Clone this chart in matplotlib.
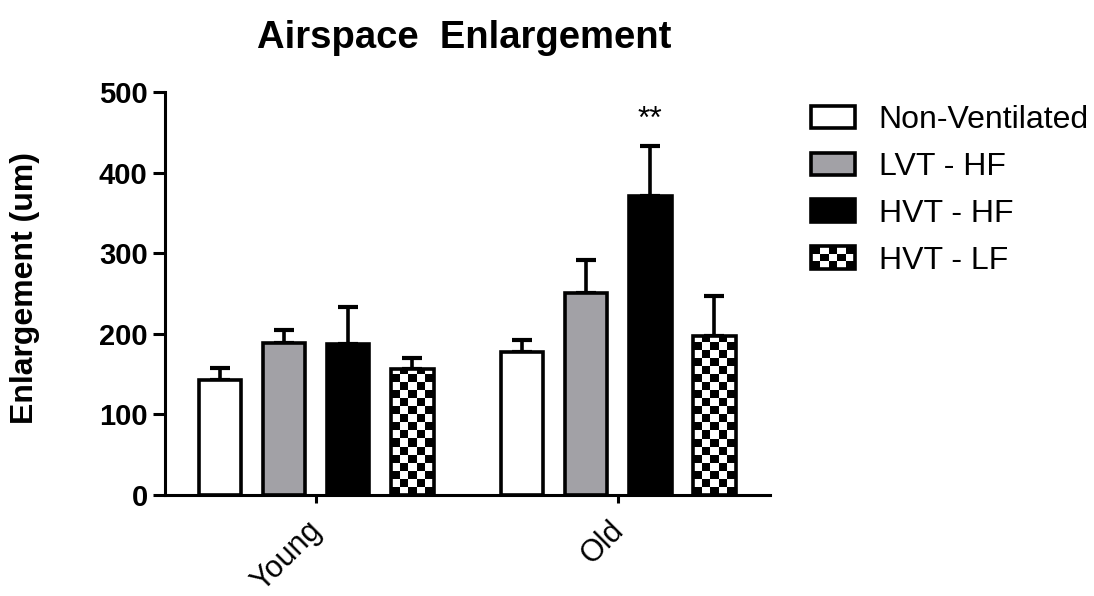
import numpy as np
import matplotlib
matplotlib.use("Agg")
from matplotlib import pyplot as plt
from matplotlib.patches import Rectangle
from matplotlib.legend_handler import HandlerBase
from matplotlib.transforms import ScaledTranslation

plt.rcParams['font.family'] = ['Liberation Sans', 'DejaVu Sans']

groups = ["Young", "Old"]
series = ["Non-Ventilated", "LVT - HF", "HVT - HF", "HVT - LF"]
means = {
    "Non-Ventilated": [143, 177],
    "LVT - HF": [188, 251],
    "HVT - HF": [187, 371],
    "HVT - LF": [156, 197],
}
sem = {
    "Non-Ventilated": [14, 15],
    "LVT - HF": [17, 41],
    "HVT - HF": [46, 62],
    "HVT - LF": [14, 50],
}
stars = {("HVT - HF", "Old"): "**"}

colors = ["white", "#a2a1a6", "black", "checker"]
offsets = [-0.318, -0.106, 0.106, 0.318]
width = 0.142
LW = 2.6


def checker_image(ax, bar, nx=5, cell_y=10.0):
    # black/white board clipped to the bar outline
    x0, y0 = bar.get_x(), bar.get_y()
    w, h = bar.get_width(), bar.get_height()
    ny = int(np.ceil(h / cell_y))
    board = (np.indices((ny, nx)).sum(axis=0) % 2).astype(float)
    im = ax.imshow(board, cmap='gray', vmin=0, vmax=1, origin='lower',
                   extent=(x0, x0 + w, y0, y0 + ny * cell_y),
                   aspect='auto', interpolation='nearest', zorder=1.5)
    im.set_clip_path(bar)


class CheckerHandler(HandlerBase):
    def create_artists(self, legend, orig_handle, xdescent, ydescent,
                       width, height, fontsize, trans):
        arts = []
        nx, ny = 5, 3
        cw, ch = width / nx, height / ny
        for i in range(nx):
            for j in range(ny):
                if (i + j) % 2 == 0:
                    arts.append(Rectangle((-xdescent + i * cw, -ydescent + j * ch), cw, ch,
                                          facecolor='black', edgecolor='none', transform=trans))
        arts.append(Rectangle((-xdescent, -ydescent), width, height, facecolor='none',
                              edgecolor='black', linewidth=LW, transform=trans))
        return arts


fig = plt.figure(figsize=(10.94, 5.96), dpi=100)
ax = fig.add_axes([165 / 1094, 101 / 596, 605 / 1094, 403 / 596])

x = np.arange(len(groups))
handles = []
for k, name in enumerate(series):
    pos = x + offsets[k]
    fc = 'white' if colors[k] == 'checker' else colors[k]
    bars = ax.bar(pos, means[name], width, color=fc, edgecolor='black',
                  linewidth=LW, zorder=2)
    if colors[k] == 'checker':
        for b in bars:
            b.set_facecolor('none')
            checker_image(ax, b)
    ax.errorbar(pos, means[name], yerr=[np.zeros(len(groups)), sem[name]],
                fmt='none', ecolor='black', elinewidth=LW, capsize=7.5,
                capthick=3, zorder=1)
    for i, g in enumerate(groups):
        if (name, g) in stars:
            ax.text(pos[i], means[name][i] + sem[name][i] + 22, stars[(name, g)],
                    ha='center', va='baseline', fontsize=23)
    handles.append(bars[0])

ax.set_xlim(-0.5, 1.503)
ax.set_ylim(0, 500)
ax.set_yticks([0, 100, 200, 300, 400, 500])
ax.set_xticks(x)
ax.set_xticklabels([])
# slanted group names hanging below their ticks
shift = ScaledTranslation(0.01, -0.31, fig.dpi_scale_trans)
for xi, g in zip(x, groups):
    ax.text(xi, 0, g, transform=ax.get_xaxis_transform() + shift,
            rotation=45, ha='right', va='center', rotation_mode='anchor',
            fontsize=22, clip_on=False)
for lab in ax.get_yticklabels():
    lab.set_fontweight('bold')
ax.tick_params(axis='y', labelsize=21, width=2.2, length=8.5, pad=4)
ax.tick_params(axis='x', width=2.2, length=6)

for side in ['top', 'right']:
    ax.spines[side].set_visible(False)
for side in ['left', 'bottom']:
    ax.spines[side].set_linewidth(2.2)

ax.set_ylabel("Enlargement (um)", fontsize=23, fontweight='bold')
ax.yaxis.set_label_coords(-0.207, 0.514)
ax.set_title("Airspace  Enlargement", fontsize=27.5, fontweight='bold', pad=32, x=0.494)

leg_patch = Rectangle((0, 0), 1, 1)
handles[3] = leg_patch
fig.legend(handles, series, loc='upper left', bbox_to_anchor=(811 / 1094, 1 - 105 / 596),
           frameon=False, fontsize=23, handlelength=1.37, handleheight=0.7,
           handletextpad=0.75, labelspacing=0.53, borderpad=0, borderaxespad=0,
           handler_map={leg_patch: CheckerHandler()})

plt.savefig("out.png", dpi=100)
